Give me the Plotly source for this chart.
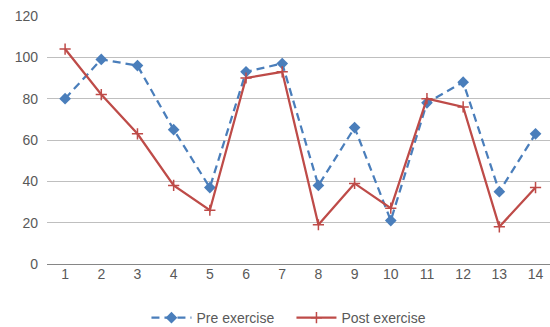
import plotly.graph_objects as go

x_labels = [1, 2, 3, 4, 5, 6, 7, 8, 9, 10, 11, 12, 13, 14]
pre_exercise = [80, 99, 96, 65, 37, 93, 97, 38, 66, 21, 78, 88, 35, 63]
post_exercise = [104, 82, 63, 38, 26, 90, 93, 19, 39, 27, 80, 76, 18, 37]

fig = go.Figure()
fig.add_trace(go.Scatter(
    x=x_labels, y=pre_exercise, name="Pre exercise", mode="lines+markers",
    line=dict(color="#4a7ebb", width=2.25, dash="8px,5px"),
    marker=dict(symbol="diamond", size=9, color="#4a7ebb"),
))
fig.add_trace(go.Scatter(
    x=x_labels, y=post_exercise, name="Post exercise", mode="lines+markers",
    line=dict(color="#be4b48", width=2.25),
    marker=dict(symbol="cross-thin", size=8, line=dict(color="#be4b48", width=1.5)),
))

fig.update_layout(
    width=550, height=327,
    margin=dict(l=47, r=0, t=16, b=63, autoexpand=False),
    paper_bgcolor="white", plot_bgcolor="white",
    font=dict(family="Liberation Sans, Arial, sans-serif", size=14, color="#595959"),
    showlegend=True,
    legend=dict(orientation="h", x=0.486, xanchor="center", y=-0.218, yanchor="middle",
                font=dict(size=14, color="#595959"), entrywidth=90, itemwidth=40),
    xaxis=dict(range=[0.5, 14.4], tickvals=x_labels, ticktext=[str(v) for v in x_labels],
               showgrid=False, zeroline=False, showline=False, ticks="",
               automargin=False, tickfont=dict(size=14, color="#595959")),
    yaxis=dict(range=[0, 120], tickvals=[0, 20, 40, 60, 80, 100, 120],
               showgrid=True, gridcolor="#bfbfbf", gridwidth=1,
               zeroline=True, zerolinecolor="#868686", zerolinewidth=1,
               showline=False, ticks="", automargin=False,
               tickfont=dict(size=14, color="#595959"), ticklabelstandoff=8),
)

fig.write_html("out.html", config={"displayModeBar": False},
               post_script="document.body.style.margin='0';document.body.style.overflow='hidden';")
